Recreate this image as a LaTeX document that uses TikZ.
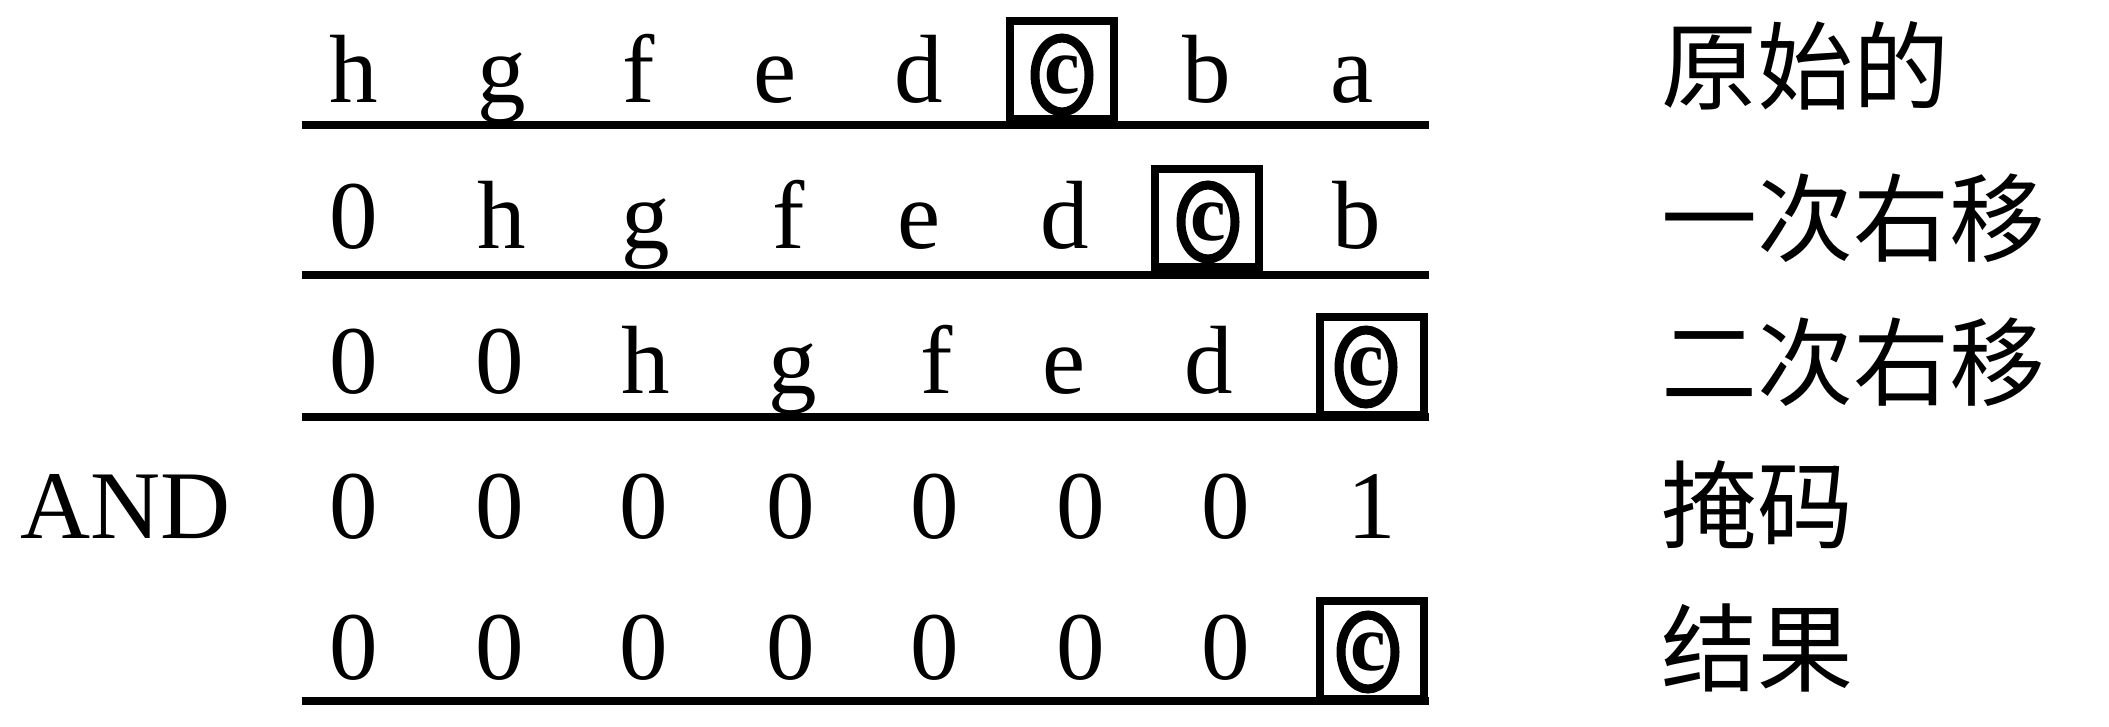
\documentclass[tikz,border=0pt]{standalone}
\usepackage{fontspec}
\setmainfont{Liberation Serif}
\newfontfamily\cjk{Noto Sans CJK SC}
\usetikzlibrary{shapes.geometric}
\begin{document}
\begin{tikzpicture}[x=1pt,y=-1pt,
  ch/.style={anchor=base, inner sep=0pt, font=\fontsize{97}{97}\selectfont},
  lab/.style={anchor=base west, inner sep=0pt, font=\cjk\fontsize{96}{96}\selectfont},
  rule/.style={line width=7.5pt},
  cbox/.style={draw, line width=8.5pt, minimum width=104pt, minimum height=98pt, inner sep=0pt},
  cring/.style={draw, ellipse, line width=9pt, minimum width=54pt, minimum height=74pt, inner sep=0pt},
  cletter/.style={inner sep=0pt, font=\fontsize{80}{80}\selectfont\bfseries}
]
\useasboundingbox (0,0) rectangle (2109,726);
% row 1
\foreach \t/\x [count=\i] in {h/354, g/502, f/639, e/775, d/919, b/1207, a/1352}
  \node[ch] (ra\i) at (\x,102) {\t};
% row 2
\foreach \t/\x [count=\i] in {0/354, h/502, g/646, f/789, e/919, d/1065, b/1357}
  \node[ch] (rb\i) at (\x,248) {\t};
% row 3
\foreach \t/\x [count=\i] in {0/354, 0/500, h/646, g/793, f/937, e/1064, d/1209}
  \node[ch] (rc\i) at (\x,393) {\t};
% row 4
\node[ch] (andop) at (126,538) {AND};
\foreach \t/\x [count=\i] in {0/354, 0/500, 0/644, 0/791, 0/935, 0/1081, 0/1226, 1/1372}
  \node[ch] (rd\i) at (\x,538) {\t};
% row 5
\foreach \t/\x [count=\i] in {0/354, 0/500, 0/644, 0/791, 0/935, 0/1081, 0/1226}
  \node[ch] (re\i) at (\x,679) {\t};
% boxed c
\node[cbox] (boxa) at (1062,70) {};
\node[cring] (ringa) at (1062,75) {};
\node[cletter] (ca) at (ringa.center) {c};
\node[cbox] (boxb) at (1207,218) {};
\node[cring] (ringb) at (1208,222) {};
\node[cletter] (cb) at (ringb.center) {c};
\node[cbox] (boxc) at (1372,366) {};
\node[cring] (ringc) at (1366,367) {};
\node[cletter] (cc) at (ringc.center) {c};
\node[cbox] (boxe) at (1372,650) {};
\node[cring] (ringe) at (1368,652) {};
\node[cletter] (ce) at (ringe.center) {c};
% rules
\coordinate (la1) at (302,125); \coordinate (la2) at (1429,125);
\coordinate (lb1) at (302,275); \coordinate (lb2) at (1429,275);
\coordinate (lc1) at (302,417); \coordinate (lc2) at (1429,417);
\coordinate (le1) at (302,701); \coordinate (le2) at (1429,701);
\draw[rule] (la1) -- (la2);
\draw[rule] (lb1) -- (lb2);
\draw[rule] (lc1) -- (lc2);
\draw[rule] (le1) -- (le2);
% labels
\node[lab] (labA) at (1661,102) {原始的};
\node[lab] (labB) at (1661,254) {一次右移};
\node[lab] (labC) at (1661,398) {二次右移};
\node[lab] (labD) at (1661,541) {掩码};
\node[lab] (labE) at (1661,684) {结果};
\end{tikzpicture}
\end{document}
